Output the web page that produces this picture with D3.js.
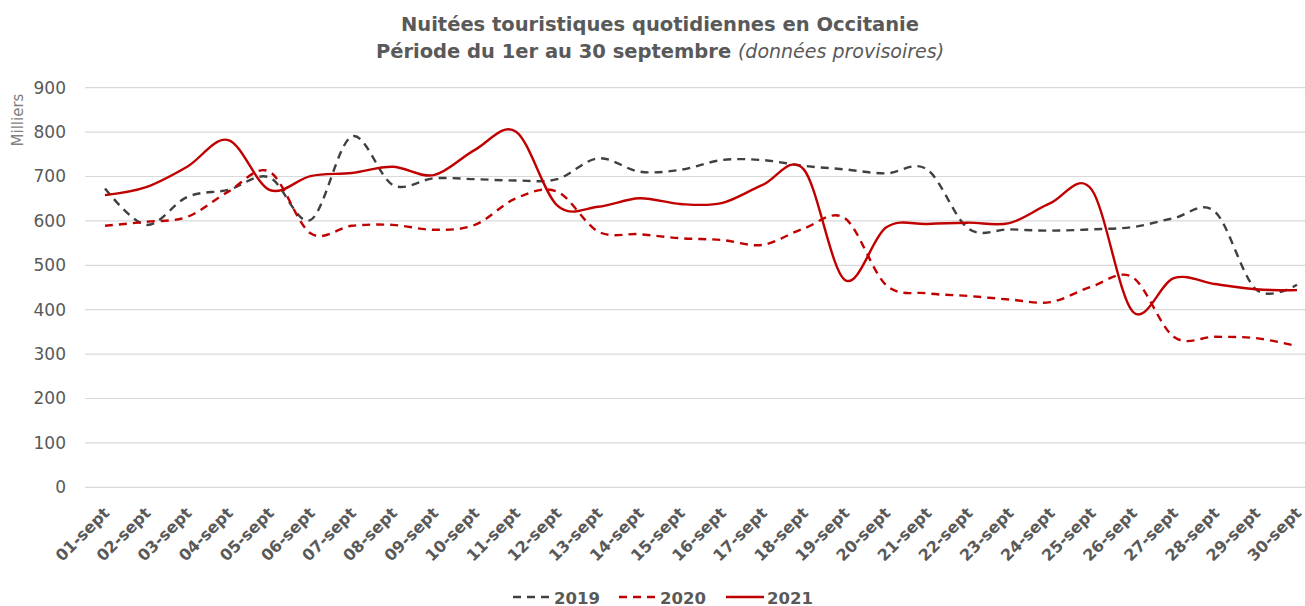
<!DOCTYPE html>
<html>
<head>
<meta charset="utf-8">
<script src="https://cdn.jsdelivr.net/npm/d3@7"></script>
<style>
  html, body { margin: 0; padding: 0; background: #fff; }
  svg { display: block; font-family: "DejaVu Sans", sans-serif; }
</style>
</head>
<body>
<svg id="chart" width="1305" height="606"></svg>
<script>
var days = ["01-sept","02-sept","03-sept","04-sept","05-sept","06-sept","07-sept","08-sept","09-sept","10-sept",
  "11-sept","12-sept","13-sept","14-sept","15-sept","16-sept","17-sept","18-sept","19-sept","20-sept",
  "21-sept","22-sept","23-sept","24-sept","25-sept","26-sept","27-sept","28-sept","29-sept","30-sept"];
var v2019 = [673,591,654,670,698,602,790,681,696,694,691,694,741,711,715,737,737,724,716,707,716,583,581,578,581,586,606,621,446,456];
var v2020 = [589,598,609,666,711,572,589,591,580,591,651,666,576,570,561,557,546,583,606,456,437,431,423,417,452,473,339,339,336,318];
var v2021 = [658,676,722,782,670,701,708,722,703,760,801,635,632,651,638,640,681,716,467,585,593,596,595,640,671,396,471,458,446,444];
var yTicks = [0,100,200,300,400,500,600,700,800,900];

var series = [
  { name: "2019", values: v2019, color: "#404040", dash: "8,6" },
  { name: "2020", values: v2020, color: "#C00000", dash: "8,6" },
  { name: "2021", values: v2021, color: "#C00000", dash: null }
];

var svg = d3.select("#chart");
var grey = "#595959";

var x = d3.scalePoint().domain(days).range([105, 1297]);
var y = d3.scaleLinear().domain([0, 900]).range([487.3, 87.7]);

// gridlines
svg.append("g").selectAll("line").data(yTicks).enter().append("line")
  .attr("x1", 85).attr("x2", 1305)
  .attr("y1", function (d) { return y(d); }).attr("y2", function (d) { return y(d); })
  .attr("stroke", "#d9d9d9").attr("stroke-width", 1.2);

// y axis labels
var yAxis = svg.append("g").attr("transform", "translate(66,0)")
  .call(d3.axisLeft(y).tickValues(yTicks).tickSize(0).tickPadding(0));
yAxis.select(".domain").remove();
yAxis.selectAll("text").attr("fill", grey).style("font-size", "17px").style("font-family", "DejaVu Sans, sans-serif");

svg.append("text").attr("transform", "translate(23,120) rotate(-90)")
  .attr("text-anchor", "middle").attr("fill", "#808080").style("font-size", "15px").text("Milliers");

// x axis labels
var xAxis = svg.append("g").attr("transform", "translate(0,496)")
  .call(d3.axisBottom(x).tickSize(0).tickPadding(0));
xAxis.select(".domain").remove();
xAxis.selectAll("text")
  .attr("fill", grey).style("font-size", "16px").style("font-weight", "bold")
  .style("font-family", "DejaVu Sans, sans-serif")
  .attr("text-anchor", "end").attr("dy", "0")
  .attr("transform", "translate(5,18) rotate(-45)");

// lines
var line = d3.line()
  .x(function (d, i) { return x(days[i]); })
  .y(function (d) { return y(d); })
  .curve(d3.curveCardinal.tension(0));

series.forEach(function (s) {
  svg.append("path").datum(s.values)
    .attr("d", line).attr("fill", "none")
    .attr("stroke", s.color).attr("stroke-width", 2.4)
    .attr("stroke-dasharray", s.dash);
});

// title
var title = svg.append("text").attr("text-anchor", "middle").attr("fill", grey).style("font-weight", "bold").style("font-size", "19.5px");
title.append("tspan").attr("x", 660).attr("y", 31).text("Nuitées touristiques quotidiennes en Occitanie");
var t2 = title.append("tspan").attr("x", 660).attr("y", 58);
t2.append("tspan").text("Période du 1er au 30 septembre ");
t2.append("tspan").style("font-weight", "normal").style("font-style", "italic").style("font-size", "19px").text("(données provisoires)");

// legend
var legendX = [513, 619, 726];
var leg = svg.append("g").selectAll("g").data(series).enter().append("g")
  .attr("transform", function (d, i) { return "translate(" + legendX[i] + ",597)"; });
leg.append("line").attr("x1", 0).attr("x2", 38).attr("y1", 0).attr("y2", 0)
  .attr("stroke", function (d) { return d.color; }).attr("stroke-width", 2.4)
  .attr("stroke-dasharray", function (d) { return d.dash; });
leg.append("text").attr("x", 41).attr("y", 6.5).attr("fill", grey)
  .style("font-size", "16.5px").style("font-weight", "bold").text(function (d) { return d.name; });
</script>
</body>
</html>
